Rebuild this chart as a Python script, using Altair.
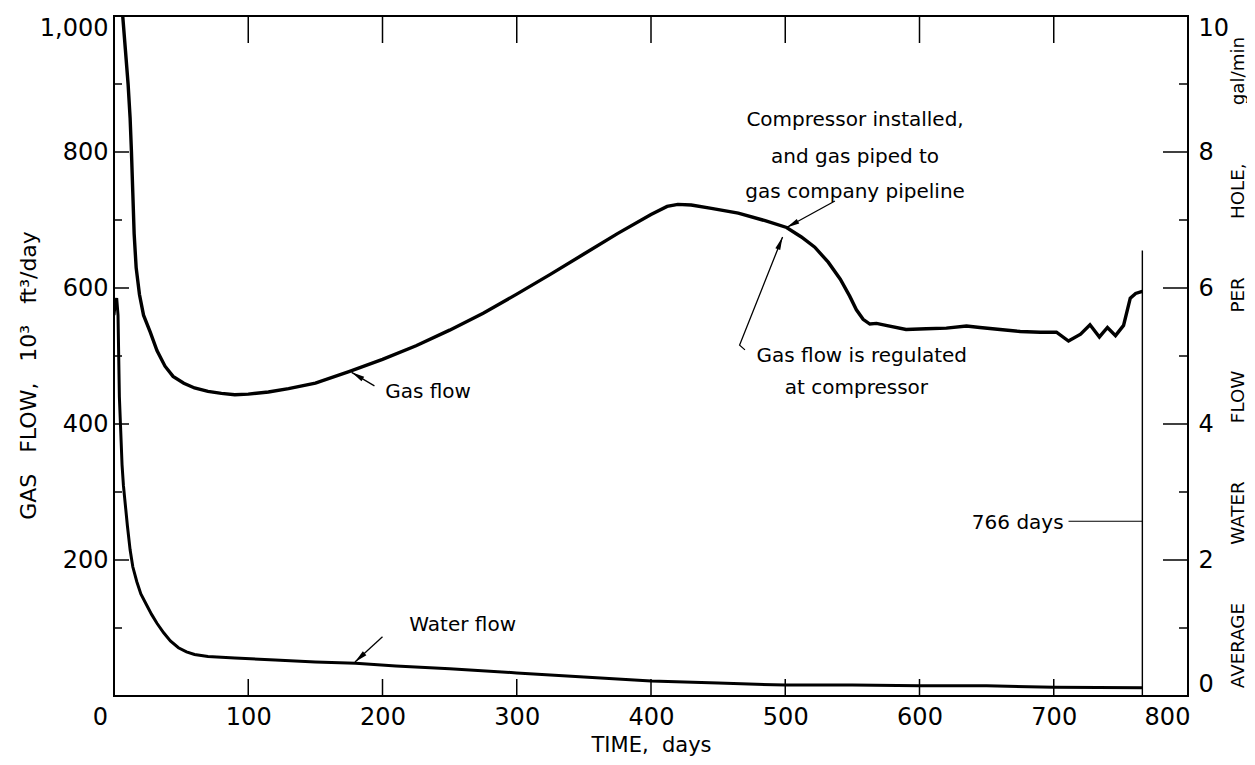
import math
import altair as alt
import pandas as pd

# ---------------- data ----------------
gas_days = [6.5, 8.5, 10.5, 12, 13, 14, 15, 16.5, 19, 22, 27, 32, 38, 44, 52, 60, 70, 80, 90,
            100, 115, 130, 150, 175, 200, 225, 250, 275, 300, 325, 350, 375, 400, 412, 420,
            430, 445, 465, 485, 501, 512, 522, 532, 541, 548, 553, 558, 563, 568, 575, 590,
            605, 620, 635, 645, 660, 675, 690, 702, 711, 720, 727, 734, 740, 746, 752, 757,
            761, 766]
gas_flow = [1000, 950, 900, 850, 800, 740, 680, 630, 590, 560, 535, 508, 485, 470, 460, 453,
            448, 445, 443, 444, 447, 452, 460, 477, 495, 515, 538, 563, 591, 620, 650, 680,
            708, 720, 723, 722, 717, 710, 699, 689, 675, 660, 638, 613, 588, 568, 554, 547,
            548, 545, 539, 540, 541, 544, 542, 539, 536, 535, 535, 522, 532, 546, 528, 542,
            530, 545, 585, 592, 595]

water_days = [0, 1, 2, 3, 3.5, 4, 5, 6, 7, 8, 10, 12, 14, 17, 20, 24, 28, 32, 37, 42, 48, 54,
              60, 70, 90, 120, 150, 180, 210, 250, 300, 350, 400, 450, 500, 550, 600, 650,
              700, 766]
water_flow = [5.6, 5.8, 5.85, 5.6, 5.0, 4.4, 3.9, 3.4, 3.1, 2.9, 2.5, 2.15, 1.9, 1.68, 1.5,
              1.35, 1.2, 1.07, 0.93, 0.81, 0.71, 0.65, 0.61, 0.58, 0.56, 0.53, 0.5, 0.48,
              0.44, 0.40, 0.34, 0.28, 0.22, 0.19, 0.16, 0.16, 0.15, 0.15, 0.13, 0.12]

x_tick_values = [0, 100, 200, 300, 400, 500, 600, 700, 800]
x_inner_ticks = [100, 200, 300, 400, 500, 600, 700]
left_label_values = [200, 400, 600, 800, 1000]
left_major = [200, 400, 600, 800]
left_minor = [100, 300, 500, 700, 900]
right_label_values = [0, 2, 4, 6, 8, 10]
right_major = [2, 4, 6, 8]
right_minor = [1, 3, 5, 7, 9]

center_texts = ["Compressor installed,", "and gas piped to", "gas company pipeline",
                "Gas flow is regulated", "at compressor"]
center_x = [552, 552, 552, 557, 553]
center_y = [847, 793, 741, 500, 453]

left_texts = ["Gas flow", "Water flow", "766 days"]
left_x = [202, 220, 639]
left_y = [447, 104, 254]

arrow_id = ["comp", "comp", "reg", "reg", "reg", "gas", "gas", "water", "water"]
arrow_x = [537, 501, 470, 466, 498, 194, 177, 200, 179.5]
arrow_y = [728, 689, 509, 516, 675, 456, 476, 87, 50]

end_day = 766
end_top = 655
end_label_x = [711, 766]
end_label_y = 257

# ---------------- layout ----------------
W, H = 1074, 680
XMAX, YMAX = 800, 1000
FONT = "DejaVu Sans"
NB = "\u00a0"

xs = alt.Scale(domain=[0, XMAX], nice=False, zero=False)
gs = alt.Scale(domain=[0, YMAX], nice=False)
ws = alt.Scale(domain=[0, 10], nice=False)

gas_df = pd.DataFrame({"day": gas_days, "gas": gas_flow})
water_df = pd.DataFrame({"day": water_days, "water": water_flow})

x_axis = alt.Axis(values=x_tick_values, tickSize=0, domain=False, grid=False,
                  labelFont=FONT, labelFontSize=24, labelColor="black", labelPadding=9,
                  labelFlush=False,
                  labelOffset={"condition": [{"test": "datum.value === 0", "value": -14},
                                             {"test": "datum.value === 800", "value": -21}],
                               "value": 0},
                  title="TIME," + NB * 2 + "days", titleFont=FONT, titleFontSize=21,
                  titleFontWeight="normal", titleColor="black",
                  titleBaseline="alphabetic", titleY=55)
left_axis = alt.Axis(orient="left", values=left_label_values,
                     labelExpr="format(datum.value, ',d')", tickSize=0,
                     domain=False, grid=False, labelFlush=True,
                     labelFont=FONT, labelFontSize=24, labelColor="black", labelPadding=6,
                     title="GAS" + NB * 3 + "FLOW," + NB * 3 + "10³" + NB * 3 + "ft³/day",
                     titleFont=FONT, titleFontSize=22, titleFontWeight="normal",
                     titleColor="black", titleAngle=270, titleAlign="center",
                     titleBaseline="middle", titleX=-86, titleY=359)
right_axis = alt.Axis(orient="right", values=right_label_values, tickSize=0, domain=False,
                      grid=False, labelFlush=True, labelFont=FONT, labelFontSize=24,
                      labelColor="black", labelPadding=10,
                      title=("AVERAGE" + NB * 10 + "WATER" + NB * 10 + "FLOW" + NB * 10 +
                             "PER" + NB * 10 + "HOLE," + NB * 10 + "gal/min"),
                      titleFont=FONT, titleFontSize=18.3, titleFontWeight="normal",
                      titleColor="black", titleAngle=270, titleAlign="center",
                      titleBaseline="middle", titleX=50, titleY=346)

# every layer carries the same axis definition, so the shared axes merge cleanly
XA = lambda f: alt.X(f, type="quantitative", scale=xs, axis=x_axis)
YG = lambda f: alt.Y(f, type="quantitative", scale=gs, axis=left_axis)
YW = lambda f: alt.Y(f, type="quantitative", scale=ws, axis=right_axis)

gas_line = alt.Chart(gas_df).mark_line(color="black", strokeWidth=3.4, clip=True).encode(
    x=XA("day"), y=YG("gas"))

left_major_t = alt.Chart(pd.DataFrame({"v": left_major})).mark_rule(
    color="black", strokeWidth=1.5).encode(x=alt.value(0), x2=alt.value(15), y=YG("v"))
left_minor_t = alt.Chart(pd.DataFrame({"v": left_minor})).mark_rule(
    color="black", strokeWidth=1.5).encode(x=alt.value(0), x2=alt.value(8), y=YG("v"))
top_t = alt.Chart(pd.DataFrame({"d": x_inner_ticks})).mark_rule(
    color="black", strokeWidth=1.5).encode(x=XA("d"), y=alt.value(0), y2=alt.value(27))
bot_t = alt.Chart(pd.DataFrame({"d": x_inner_ticks})).mark_rule(
    color="black", strokeWidth=1.5).encode(x=XA("d"), y=alt.value(H - 17), y2=alt.value(H))

end_line = alt.Chart(pd.DataFrame({"d": [end_day], "y0": [0], "y1": [end_top]})).mark_rule(
    color="black", strokeWidth=1.4).encode(x=XA("d"), y=YG("y0"), y2="y1:Q")
end_lab_line = alt.Chart(pd.DataFrame({"a": [end_label_x[0]], "b": [end_label_x[1]],
                                       "y": [end_label_y]})).mark_rule(
    color="black", strokeWidth=1.2).encode(x=XA("a"), x2="b:Q", y=YG("y"))

ctext = alt.Chart(pd.DataFrame({"t": center_texts, "x": center_x, "y": center_y})).mark_text(
    font=FONT, fontSize=20, color="black", align="center", baseline="middle").encode(
    x=XA("x"), y=YG("y"), text="t:N")
ltext = alt.Chart(pd.DataFrame({"t": left_texts, "x": left_x, "y": left_y})).mark_text(
    font=FONT, fontSize=20, color="black", align="left", baseline="middle").encode(
    x=XA("x"), y=YG("y"), text="t:N")

arr_df = pd.DataFrame({"id": arrow_id, "x": arrow_x, "y": arrow_y,
                       "o": list(range(len(arrow_id)))})
arr_lines = alt.Chart(arr_df).mark_line(color="black", strokeWidth=1.3).encode(
    x=XA("x"), y=YG("y"), detail="id:N", order="o:Q")

# arrowheads at the last point of each arrow, rotated along the last segment
heads = []
for aid in dict.fromkeys(arrow_id):
    pts = [(x, y) for i, x, y in zip(arrow_id, arrow_x, arrow_y) if i == aid]
    (x1, y1), (x2, y2) = pts[-2], pts[-1]
    dx = (x2 - x1) * W / XMAX
    dy = -(y2 - y1) * H / YMAX
    ang = math.degrees(math.atan2(dx, -dy)) % 360
    heads.append({"x": x2, "y": y2, "ang": ang})
head_df = pd.DataFrame(heads)
arr_heads = alt.Chart(head_df).mark_point(
    shape="M0,0L-0.4,2L0.4,2Z", filled=True, size=170, color="black", opacity=1,
    strokeWidth=0).encode(x=XA("x"), y=YG("y"),
                          angle=alt.Angle("ang:Q", scale=None))

layer_gas = alt.layer(gas_line, left_major_t, left_minor_t, top_t, bot_t, end_line,
                      end_lab_line, ctext, ltext, arr_lines, arr_heads)

water_line = alt.Chart(water_df).mark_line(color="black", strokeWidth=3.0, clip=True).encode(
    x=XA("day"), y=YW("water"))
right_major_t = alt.Chart(pd.DataFrame({"v": right_major})).mark_rule(
    color="black", strokeWidth=1.5).encode(x=alt.value(W - 25), x2=alt.value(W), y=YW("v"))
right_minor_t = alt.Chart(pd.DataFrame({"v": right_minor})).mark_rule(
    color="black", strokeWidth=1.5).encode(x=alt.value(W - 9), x2=alt.value(W), y=YW("v"))
layer_water = alt.layer(water_line, right_major_t, right_minor_t)

chart = alt.layer(layer_gas, layer_water).resolve_scale(y="independent").resolve_axis(
    y="independent").properties(
    width=W, height=H,
    autosize=alt.AutoSizeParams(type="none"),
    padding={"left": 106, "top": 8, "right": 59, "bottom": 60},
    background="white",
).configure_view(stroke="black", strokeWidth=2)

chart.save("out.html", embed_options={"renderer": "svg", "actions": False})
